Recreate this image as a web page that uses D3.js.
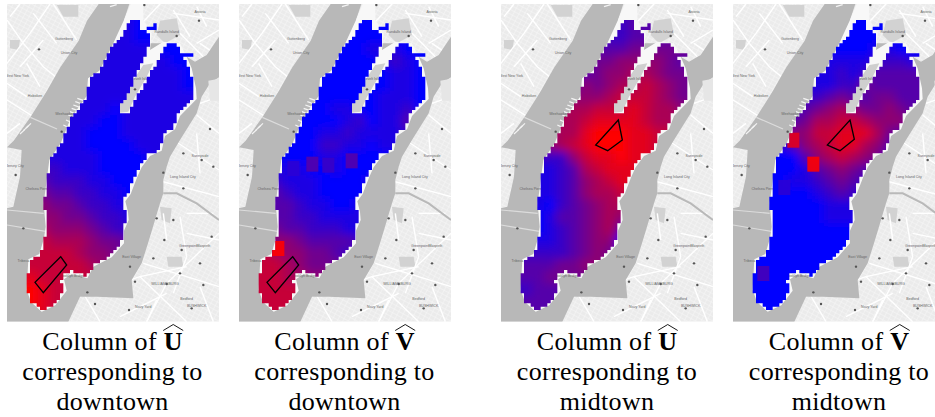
<!DOCTYPE html>
<html><head><meta charset="utf-8">
<script src="https://cdnjs.cloudflare.com/ajax/libs/d3/7.8.5/d3.min.js"></script>
<style>html,body{margin:0;padding:0;background:#fff;overflow:hidden}svg{display:block}</style>
</head><body><svg id="c" width="935" height="417"></svg>
<script>
// Map coordinates: arbitrary survey units shared by every panel
const panelNames = ["uDown","vDown","uMid","vMid"];
const captionLetters = ["U","V","U","V"];
const captionPlaces = ["downtown","downtown","midtown","midtown"];
const maskOutline = [[390,60],[418,60],[425,85],[450,100],[450,130],[440,155],[425,190],[405,235],[385,285],[353,318],[360,338],[390,336],[405,300],[440,240],[470,190],[490,150],[505,130],[530,130],[550,170],[570,210],[583,270],[583,295],[560,320],[535,345],[520,385],[490,405],[480,450],[445,465],[420,500],[405,530],[385,580],[368,605],[380,640],[380,660],[367,690],[365,725],[330,770],[280,795],[275,810],[260,830],[215,812],[190,825],[185,845],[195,870],[165,915],[125,933],[95,905],[82,870],[87,780],[120,765],[135,715],[140,680],[133,610],[150,480],[185,430],[215,355],[262,290],[268,235],[300,215],[335,145],[370,100]];
const maskStubs = [[[436,85],[470,85],[470,95],[436,95]],[[458,70],[467,70],[467,90],[458,90]],[[555,157],[584,157],[584,166],[555,166]]];
const waterOutline = [[296,12],[388,12],[372,60],[450,130],[490,130],[560,170],[585,185],[620,165],[657,110],[657,232],[630,250],[605,290],[590,340],[540,420],[510,470],[500,500],[490,540],[490,580],[480,610],[450,710],[425,790],[395,840],[400,895],[291,890],[240,890],[205,965],[21,965],[21,625],[40,620],[60,530],[65,450],[21,442],[41,422],[91,352],[141,272],[181,202],[236,122],[261,62]];
const manhattanOutline = [[392,12],[372,60],[335,140],[298,212],[264,235],[260,288],[212,355],[182,430],[148,480],[131,610],[137,680],[132,715],[118,762],[85,778],[80,870],[93,906],[125,935],[166,916],[200,872],[192,838],[215,822],[262,835],[280,800],[335,772],[372,730],[372,692],[386,660],[384,636],[376,604],[392,582],[412,530],[425,502],[450,468],[485,452],[495,408],[525,388],[540,348],[590,297],[588,265],[575,205],[560,170],[540,130],[490,125],[450,150],[455,100],[430,60],[430,12]];
const islandOutline = [[355,318],[372,290],[400,240],[430,195],[460,190],[440,230],[405,290],[385,335],[358,338]];
const riverIslet = [[625,242],[657,236],[657,302],[630,302]];
const parkAreas = [[[480,62],[530,55],[540,105],[495,130],[470,105]],[[170,15],[235,15],[235,50],[190,50]],[[480,620],[515,625],[510,670],[485,660]],[[30,120],[60,120],[55,150],[30,145]],[[500,770],[545,770],[550,800],[505,800]]];
const roadLines = [[[21,60],[70,130],[130,200],[190,250]],[[60,12],[30,50]],[[21,300],[100,350],[180,395]],[[150,12],[90,100],[21,190]],[[160,12],[230,120]],[[420,12],[395,50]],[[480,12],[430,65]],[[520,40],[657,60]],[[657,90],[590,130]],[[540,100],[610,170]],[[600,310],[657,290]],[[590,345],[657,400]],[[520,420],[657,510]],[[470,540],[657,590]],[[657,700],[500,850],[440,965]],[[430,790],[657,860]],[[420,830],[560,965]],[[190,830],[250,880],[300,965]],[[240,890],[420,830],[560,800]],[[540,650],[560,770],[520,880]],[[490,640],[500,720]],[[590,400],[600,520]],[[100,40],[170,130]],[[60,200],[130,120]],[[21,250],[80,290]],[[80,190],[120,260]],[[360,950],[500,880]],[[560,640],[640,640]],[[560,700],[657,720]],[[600,860],[640,965]],[[470,900],[440,965]],[[600,130],[657,170]],[[520,30],[570,110]],[[590,20],[620,80]],[[21,400],[60,370]]];
const creekLine = [[490,580],[530,580],[590,610],[657,660]];
const riverLines = [[[91,352],[171,387]],[[21,630],[131,640]],[[21,675],[141,695]]];
const pierLines = [[[205,345],[222,352]],[[210,335],[228,342]],[[215,325],[234,332]],[[220,315],[240,322]],[[226,305],[246,312]],[[232,295],[252,302]],[[190,375],[205,382]],[[198,360],[214,367]],[[70,392],[85,378]],[[60,402],[75,388]],[[78,384],[93,370]],[[330,20],[350,14]]];
const poiPoints = [[117,148],[215,352],[185,395],[70,685],[262,877],[530,108],[405,268],[630,387],[545,750],[460,775],[387,930],[493,720],[470,655],[550,565],[490,518],[597,62],[433,15],[600,790],[47,525],[285,912],[635,710],[500,852],[405,845],[540,820],[610,855],[575,925],[520,660],[640,500],[605,480],[550,460],[390,800]];
const tinyLabels = [["Guttenberg",192,120],["Union City",207,162],["West New York",51,231],["Hoboken",105,291],["Weehawken",195,345],["Long Island City",549,534],["Greenpoint",564,741],["WILLIAMSBURG",495,855],["Randalls Island",500,98],["Roosevelt Island",415,240],["Astoria",600,40],["Brooklyn Bridge",215,830],["Jersey City",45,500],["East Village",395,775],["BUSHWICK",590,920],["Bedford",560,900],["Sunnyside",600,470],["Maspeth",610,740],["Chelsea Piers",110,570],["Tribeca",70,785],["Navy Yard",430,925]];
const gridCols = d3.range(14), gridRows = d3.range(25);
const uDown = ["11111111100000","11111111100000","11111111111000","11111111111100","11111111111110","11111111111110","11111111111111","11111110111111","11111100111111","11111000111111","11111000011111","11111100001111","22211100000111","33222110000111","44332211000111","55443221100111","55544322110111","66555432211111","77666544322111","77776554321111","77777655431111","87777765531111","98777766541111","98777766541111","88777766541111"];
const vDown = ["00000000000000","00000000000000","00000000011100","00000000001210","00000000000110","00000000000110","00000000001110","00000011001120","00000001201130","00000112111120","00000221101100","00000110000000","01110010000000","22111000010000","33211000000000","33321100100000","33322111100000","44332221110000","55543333211000","76554432311000","77654443221000","77665544321000","77776654321000","77777654321000","77777654321000"];
const uMid = ["33333333233333","33333332233333","44444433344444","44444344555543","44444345566544","33333545667654","44445556777654","55566677787665","55566788887665","55566899988775","55567899988765","22225788988755","11123678887655","11123567887655","11123566776655","11023456676555","00133456565555","00123456300555","11123455003055","22223454320555","33344554320555","33444443210000","23333333210000","33333333210000","33333333210000"];
const vMid = ["00000000000000","00000000000000","00000000001100","00000011112221","00000112123333","00001112243333","00112234334433","11223456544543","11234667765553","11255778886433","11135678865322","00003567654210","00001345432100","00011234321000","00000123211000","00000011110000","00000011110000","00000000000000","00000000000000","00000000000000","00000000000000","00000000000000","00000000000000","00000000000000","00000000000000"];
const gridsByPanel = {uDown, vDown, uMid, vMid};
const patchesByPanel = {uDown:[], vDown:[[241,492,3],[359,482,3],[184,505,1.5],[289,495,2],[139,745,9]], uMid:[], vMid:[[202,420,8],[262,492,9],[175,562,1.5],[112,820,2.5]]};
const regionOutline = {uDown:[[182,770],[200,795],[130,878],[105,847]], vDown:[[182,770],[200,795],[130,878],[105,847]], uMid:[[373,360],[385,420],[341,452],[305,435]], vMid:[[372,360],[385,418],[342,452],[304,435]]};

const panelLeft = [7,239,501,733], panelTop = 4;
const sx = d3.scaleLinear().domain([21,657]).range([0,212]);
const sy = d3.scaleLinear().domain([12,965]).range([0,317.67]);
const colX = d3.scaleBand().domain(gridCols).range([80,584]);
const rowY = d3.scaleBand().domain(gridRows).range([60,960]);
const heat = d3.scaleLinear().domain([0,9]).range(["#0000ff","#ff0000"]);
const poly = d3.line().x(d=>sx(d[0])).y(d=>sy(d[1])).curve(d3.curveLinearClosed);
const open = d3.line().x(d=>sx(d[0])).y(d=>sy(d[1]));

const cell = 10;
let maskPath = "";
d3.range(60,940,cell).forEach(y=>{
  let run=null;
  d3.range(70,600,cell).concat([600]).forEach(x=>{
    const inside = x<600 && (d3.polygonContains(maskOutline,[x+cell/2,y+cell/2]) || maskStubs.some(s=>d3.polygonContains(s,[x+cell/2,y+cell/2])));
    if(inside && run===null) run=x;
    if(!inside && run!==null){
      maskPath += `M${sx(run)},${sy(y)}H${sx(x)}V${sy(y+cell)}H${sx(run)}Z`;
      run=null;
    }
  });
});

const svg = d3.select("#c");
const defs = svg.append("defs");
const clip = (id)=>defs.append("clipPath").attr("id",id);
clip("mask").append("path").attr("d",maskPath);
clip("panel").append("rect").attr("width",212).attr("height",317.67);
defs.append("filter").attr("id","soft").attr("x","-20%").attr("y","-20%").attr("width","140%").attr("height","140%")
  .append("feGaussianBlur").attr("stdDeviation",5);
defs.append("filter").attr("id","tiny").append("feGaussianBlur").attr("stdDeviation",.4);
const streets = defs.append("pattern").attr("id","streets").attr("patternUnits","userSpaceOnUse").attr("width",5).attr("height",4).attr("patternTransform","rotate(28)");
streets.append("path").attr("d","M0,0H5M0,0V4").attr("stroke","#f8f8f8").attr("stroke-width",.9);

const edgeBleed = 60;
panelNames.forEach((name,pi)=>{
  const g = svg.append("g").attr("transform",`translate(${panelLeft[pi]},${panelTop})`).attr("clip-path","url(#panel)");
  const base = g.append("g").attr("filter","url(#tiny)");
  base.append("rect").attr("width",212).attr("height",317.67).attr("fill","#ebebeb");
  base.append("rect").attr("width",212).attr("height",317.67).attr("fill","url(#streets)");
  base.selectAll("path.park").data(parkAreas).join("path").attr("class","park").attr("d",poly).attr("fill","#d2d2d2");
  base.selectAll("path.road").data(roadLines).join("path").attr("class","road").attr("fill","none").attr("stroke","#fff").attr("stroke-width",1.4).attr("d",open);
  base.append("path").attr("d",open(creekLine)).attr("fill","none").attr("stroke","#b9b9b9").attr("stroke-width",2);
  base.append("path").attr("d",poly(waterOutline)).attr("fill","#b8b8b8");
  base.append("path").attr("d",poly(riverIslet)).attr("fill","#e6e6e6");
  base.selectAll("path.river").data(riverLines).join("path").attr("class","river").attr("fill","none").attr("stroke","#dcdcdc").attr("stroke-width",1.2).attr("d",open);
  base.selectAll("path.pier").data(pierLines).join("path").attr("class","pier").attr("fill","none").attr("stroke","#f4f4f4").attr("stroke-width",1.2).attr("d",open);
  base.append("path").attr("d",poly(manhattanOutline)).attr("fill","#f8f8f8");
  base.append("path").attr("d",poly(islandOutline)).attr("fill","#cfcfcf");
  base.selectAll("circle").data(poiPoints).join("circle").attr("cx",d=>sx(d[0])).attr("cy",d=>sy(d[1])).attr("r",1.2).attr("fill","#555");
  g.selectAll("text.tiny").data(tinyLabels).join("text").attr("class","tiny")
    .attr("x",d=>sx(d[1])).attr("y",d=>sy(d[2])).attr("text-anchor","middle")
    .attr("font-family","'Liberation Sans',sans-serif").attr("font-size",3.6).attr("fill","#666").text(d=>d[0]);

  const heatG = g.append("g").attr("clip-path","url(#mask)");
  const soft = heatG.append("g").attr("filter","url(#soft)");
  const rows = gridsByPanel[name];
  gridRows.forEach(r=>gridCols.forEach(c=>{
    const x0 = colX(c)-(c===0?edgeBleed:0), x1 = colX(c)+colX.step()+(c===13?edgeBleed:0);
    const y0 = rowY(r)-(r===0?edgeBleed:0), y1 = rowY(r)+rowY.step()+(r===24?edgeBleed:0);
    soft.append("rect")
      .attr("x",sx(x0)-1).attr("y",sy(y0)-1)
      .attr("width",sx(x1)-sx(x0)+2)
      .attr("height",sy(y1)-sy(y0)+2)
      .attr("fill",heat(+rows[r][c]));
  }));
  heatG.selectAll("rect.patch").data(patchesByPanel[name]).join("rect").attr("class","patch")
    .attr("x",d=>sx(d[0]-18)).attr("y",d=>sy(d[1]-22))
    .attr("width",sx(36)-sx(0)).attr("height",sy(45)-sy(0))
    .attr("fill",d=>heat(d[2])).attr("fill-opacity",.9);
  g.append("path").attr("d",poly(regionOutline[name])).attr("fill","none").attr("stroke","#000").attr("stroke-width",1.3);
});

const captionCenter = [112.5,344.5,607,839];
const lineY = [349.5,380,410];
const serif = "'Liberation Serif','Times New Roman',serif";
captionCenter.forEach((cx,i)=>{
  const t = svg.append("g").attr("font-family",serif).attr("font-size",26).attr("letter-spacing",.3).attr("fill","#000").attr("text-anchor","middle");
  const l1 = t.append("text").attr("x",cx).attr("y",lineY[0]);
  l1.append("tspan").text("Column of ");
  const b = l1.append("tspan").attr("font-weight","bold").text(captionLetters[i]);
  t.append("text").attr("x",cx).attr("y",lineY[1]).text("corresponding to");
  t.append("text").attr("x",cx).attr("y",lineY[2]).text(captionPlaces[i]);
  const box = b.node().getBBox();
  const hx = box.x+box.width/2;
  t.append("path").attr("d",`M${hx-10},${lineY[0]-19}L${hx},${lineY[0]-25}L${hx+10},${lineY[0]-19}`).attr("fill","none").attr("stroke","#000").attr("stroke-width",.9);
});
</script></body></html>
